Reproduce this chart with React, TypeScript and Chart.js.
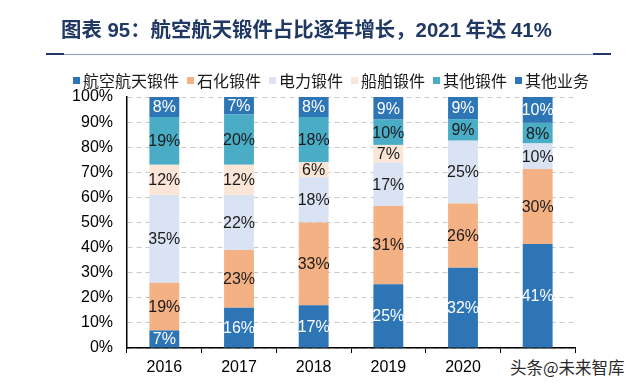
import React, { useEffect, useRef } from "react";
import { Chart, registerables } from "chart.js";

Chart.register(...registerables);

const years = ["2016", "2017", "2018", "2019", "2020", "2021"];
const seriesNames = ["航空航天锻件", "石化锻件", "电力锻件", "船舶锻件", "其他锻件", "其他业务"];
const aerospace = [7, 16, 17, 25.4, 32.0, 41.4];
const petrochem = [19, 23, 33, 31.2, 25.6, 29.9];
const power = [35, 22, 18, 17.3, 25.0, 10.2];
const ship = [12, 12, 6, 7.0, 0, 0];
const otherForging = [19, 20, 18, 10.1, 8.6, 8.2];
const otherBusiness = [8, 7, 8, 9.0, 8.8, 10.3];
const yTicks = [0, 10, 20, 30, 40, 50, 60, 70, 80, 90, 100];

const seriesData = [aerospace, petrochem, power, ship, otherForging, otherBusiness];
const colors = ["#2E75B6", "#F4B183", "#DAE3F3", "#FBE5D6", "#4BACC6", "#2E75B6"];
const labelColors = ["#FFFFFF", "#1A1A1A", "#1A1A1A", "#1A1A1A", "#1A1A1A", "#FFFFFF"];

const FONT = '"Liberation Sans", Arial, "Noto Sans CJK SC", sans-serif';
const CJK = '"Noto Sans CJK SC", "Liberation Sans", sans-serif';

const labelPlugin = {
  id: "segLabels",
  afterDatasetsDraw(chart: any) {
    const ctx = chart.ctx;
    ctx.save();
    ctx.font = `16px ${FONT}`;
    ctx.textAlign = "center";
    ctx.textBaseline = "middle";
    chart.data.datasets.forEach((ds: any, i: number) => {
      const meta = chart.getDatasetMeta(i);
      meta.data.forEach((el: any, j: number) => {
        const v = ds.data[j];
        if (!v) return;
        const p = el.getProps(["x", "y", "base"], true);
        ctx.fillStyle = labelColors[i];
        ctx.fillText(Math.round(v) + "%", p.x, (p.y + p.base) / 2 + 1);
      });
    });
    ctx.restore();
  },
};

export default function App() {
  const ref = useRef<HTMLCanvasElement>(null);
  useEffect(() => {
    if (!ref.current) return;
    const chart = new Chart(ref.current, {
      type: "bar",
      data: {
        labels: years,
        datasets: seriesNames.map((name, i) => ({
          label: name,
          data: seriesData[i],
          backgroundColor: colors[i],
          borderWidth: 0,
          barPercentage: 0.4,
          categoryPercentage: 1,
        })),
      },
      options: {
        responsive: false,
        animation: false,
        devicePixelRatio: 1,
        layout: { padding: { left: 0, right: 65, top: 97, bottom: 0 } },
        plugins: { legend: { display: false }, tooltip: { enabled: false } },
        scales: {
          x: {
            stacked: true,
            afterFit: (s: any) => { s.height = 39; },
            grid: { display: true, drawOnChartArea: false, offset: true, tickLength: 5, color: "#000" },
            border: { display: true, color: "#000", width: 1.5 },
            ticks: { color: "#000", font: { size: 16, family: FONT }, padding: 5 },
          },
          y: {
            stacked: true,
            min: 0,
            max: 100,
            afterFit: (s: any) => { s.width = 127; },
            afterBuildTicks: (s: any) => { s.ticks = yTicks.map((v) => ({ value: v })); },
            grid: { color: "#C9C9C9", lineWidth: 1, drawTicks: false },
            border: { display: true, color: "#000", width: 1.5, dash: [5, 4] },
            ticks: {
              color: "#000",
              font: { size: 16, family: FONT },
              padding: 14,
              callback: (v: any) => v + "%",
            },
          },
        },
      },
      plugins: [labelPlugin],
    } as any);
    return () => chart.destroy();
  }, []);

  return (
    <div style={{ position: "fixed", left: 0, top: 0, width: 640, height: 387, background: "#fff", overflow: "hidden" }}>
      <canvas ref={ref} width={640} height={387} style={{ position: "absolute", left: 0, top: 0, width: 640, height: 387 }} />
      <div
        style={{
          position: "absolute",
          left: 61,
          top: 14,
          fontFamily: CJK,
          fontWeight: "bold",
          fontSize: 20.4,
          lineHeight: "28px",
          color: "#1F3864",
          whiteSpace: "nowrap",
        }}
      >
        <span style={{ fontFamily: FONT }}>图表 95：</span>航空航天锻件占比逐年增长，<span style={{ fontFamily: FONT }}>2021</span> 年达 <span style={{ fontFamily: FONT }}>41%</span>
      </div>
      <div style={{ position: "absolute", left: 46, top: 54, width: 565, height: 1, background: "#8A9BBF" }} />
      <div style={{ position: "absolute", left: 46, top: 53, width: 18, height: 2, background: "#1F3864" }} />
      <div style={{ position: "absolute", left: 593, top: 53, width: 18, height: 2, background: "#1F3864" }} />
      <div
        style={{
          position: "absolute",
          left: 73,
          top: 69,
          display: "flex",
          alignItems: "center",
          fontFamily: CJK,
          fontSize: 16,
          lineHeight: "22px",
          color: "#1A1A1A",
          whiteSpace: "nowrap",
        }}
      >
        {seriesNames.map((n, i) => (
          <div key={n} style={{ display: "flex", alignItems: "center", marginRight: 8 }}>
            <span style={{ display: "inline-block", width: 7, height: 7, background: colors[i], marginRight: 3 }} />
            <span>{n}</span>
          </div>
        ))}
      </div>
      <div
        style={{
          position: "absolute",
          left: 506,
          top: 355,
          padding: "0 4px",
          background: "#fff",
          fontFamily: CJK,
          fontSize: 16.5,
          lineHeight: "24px",
          color: "#2A2A2A",
          whiteSpace: "nowrap",
        }}
      >
        头条@未来智库
      </div>
    </div>
  );
}
